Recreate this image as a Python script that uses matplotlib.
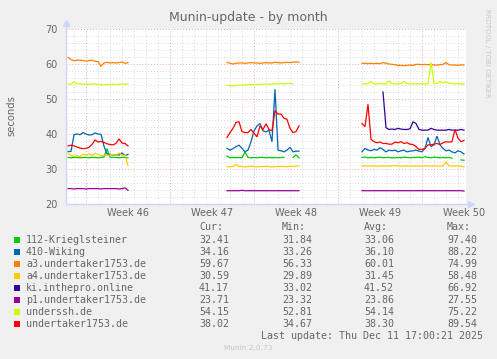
import numpy as np
import matplotlib
matplotlib.use("Agg")
import matplotlib.pyplot as plt
from matplotlib.patches import Rectangle

nan = np.nan

# x axis in days since Monday of week 46, one sample every 6 hours
t_seg1 = np.arange(-1.5, 3.51, 0.25)
t_seg2 = np.arange(11.75, 17.76, 0.25)
t_seg3 = np.arange(23.0, 31.51, 0.25)

week_labels = ["Week 46", "Week 47", "Week 48", "Week 49", "Week 50"]
week_centers = [3.5, 10.5, 17.5, 24.5, 31.5]

# 112-Krieglsteiner
krieg_1 = [33.3, 33.2, 33.3, 33.3, 33.2, 33.3, 33.3, 33.2, 33.3, 33.3, 33.2, 33.3, 33.4, 35.8, 33.4,
           33.3, 33.3, 33.2, 33.3, 33.3, 33.2]
krieg_2 = [33.7, 33.2, 33.3, 33.2, 33.3, 33.2, 34.8, 33.3, 33.2, 33.3, 33.2, 33.3, 33.3, 33.2, 33.3,
           33.2, 33.3, 33.2, 33.3, 33.3, nan, nan, 33.3, 34.0, 33.2]
krieg_3 = [33.3, 33.4, 33.2, 33.3, 33.2, 33.3, 33.4, 33.2, 33.3, 33.3, 33.2, 33.2, 33.3, 33.2, 33.4,
           33.3, 33.2, 33.3, 33.3, 33.4, 33.2, 33.5, 33.3, 33.2, 33.4, 33.3, 33.2, 33.3, 33.2, 33.3,
           33.1, nan, nan, 32.6, 32.5]

# 410-Wiking
wiking_1 = [35.0, 35.0, 39.8, 40.0, 39.8, 40.4, 40.0, 39.7, 39.8, 40.3, 40.0, 39.9, 36.5, 34.3, 34.2,
            34.0, 34.1, 34.0, 34.6, 33.8, 34.2]
wiking_2 = [35.9, 35.4, 35.8, 36.4, 36.8, 35.9, 34.9, 35.4, 37.8, 40.9, 42.3, 43.0, 40.9, 40.6, 41.1,
            37.8, 52.8, 35.4, 35.2, 34.9, 35.4, 36.2, 34.9, 35.1, 35.1]
wiking_3 = [34.9, 35.9, 35.4, 35.2, 35.6, 35.4, 36.1, 35.6, 34.9, 35.4, 35.2, 35.4, 34.9, 35.2, 35.4,
            34.9, 35.1, 35.2, 35.4, 35.1, 34.9, 35.9, 39.0, 36.4, 36.9, 39.4, 36.9, 35.9, 35.2, 35.4,
            34.9, 34.6, 35.2, 34.9, 34.3]

# a3.undertaker1753.de
a3_1 = [61.9, 61.3, 60.9, 61.1, 61.1, 61.0, 60.8, 61.0, 61.1, 60.8, 60.7, 59.3, 60.3, 60.5, 60.3,
        60.4, 60.3, 60.4, 60.6, 60.2, 60.4]
a3_2 = [60.5, 60.2, 60.0, 60.2, 60.3, 60.3, 60.2, 60.3, 60.4, 60.3, 60.3, 60.2, 60.3, 60.4, 60.3,
        60.3, 60.5, 60.4, 60.3, 60.4, 60.5, 60.4, 60.5, 60.6, 60.5]
a3_3 = [60.2, 60.2, 60.1, 60.2, 60.1, 60.2, 60.1, 60.4, 60.2, 60.0, 59.9, 59.8, 59.6, 59.6, 59.5,
        59.6, 59.7, 59.6, 59.9, 59.9, 59.8, 59.9, 59.8, 59.9, 59.7, 59.7, 59.8, 59.9, 60.4, 59.8,
        59.7, 59.7, 59.6, 59.8, 59.7]

# a4.undertaker1753.de
a4_1 = [34.6, 33.8, 33.6, 33.8, 33.5, 34.2, 34.0, 34.3, 33.8, 34.5, 34.2, 33.7, 34.0, 33.8, 34.0,
        34.2, 33.9, 34.6, 33.8, 34.0, 31.0]
a4_2 = [30.7, 30.6, 30.7, 31.3, 30.8, 30.7, 30.6, 30.7, 30.8, 30.7, 30.6, 30.7, 30.7, 30.8, 30.7,
        30.6, 30.7, 30.7, 30.8, 30.7, 30.7, 30.8, 30.7, 30.9, 30.8]
a4_3 = [30.9, 30.9, 30.8, 30.9, 30.9, 30.8, 30.9, 30.9, 30.8, 30.9, 30.9, 31.0, 30.9, 30.8, 30.9,
        30.9, 30.8, 30.9, 30.9, 30.9, 30.8, 30.9, 30.9, 30.8, 30.9, 30.9, 30.8, 30.9, 32.0, 30.9,
        30.8, 30.9, 30.9, 30.8, 30.6]

# ki.inthepro.online (only present in the last block)
ki_1 = [nan] * 21
ki_2 = [nan] * 25
ki_3 = [nan, nan, nan, nan, nan, nan, nan, 52.0, 41.8, 41.3, 41.4, 41.3, 41.6, 41.4, 41.3,
        41.3, 41.5, 43.5, 43.0, 41.3, 41.1, 41.1, 41.1, 41.6, 41.3, 41.1, 41.1, 41.1, 41.1, 41.3,
        41.1, 41.1, 41.1, 41.3, 41.1]

# p1.undertaker1753.de
p1_1 = [24.4, 24.4, 24.3, 24.4, 24.4, 24.4, 24.3, 24.4, 24.4, 24.4, 24.4, 24.3, 24.4, 24.4, 24.4,
        24.4, 24.4, 24.3, 24.4, 24.6, 23.9]
p1_2 = [23.8, 23.8, 23.8, 23.8, 23.8, 23.9, 23.8, 23.8, 23.8, 23.8, 23.8, 23.8, 23.8, 23.8, 23.8,
        23.8, 23.8, 23.8, 23.8, 23.8, 23.8, 23.8, 23.8, 23.8, 23.8]
p1_3 = [23.8, 23.8, 23.8, 23.8, 23.8, 23.8, 23.8, 23.8, 23.8, 23.8, 23.8, 23.8, 23.8, 23.8, 23.8,
        23.8, 23.8, 23.8, 23.8, 23.8, 23.8, 23.8, 23.8, 23.8, 23.8, 23.8, 23.8, 23.8, 23.8, 23.8,
        23.8, 23.8, 23.8, 23.8, 23.7]

# underssh.de
ussh_1 = [54.3, 54.2, 55.0, 54.3, 54.3, 54.2, 54.3, 54.2, 54.2, 54.3, 54.2, 54.1, 54.0, 54.2, 54.1,
          54.2, 54.1, 54.2, 54.3, 54.2, 54.3]
ussh_2 = [53.9, 53.8, 53.7, 53.9, 53.9, 54.0, 54.0, 54.1, 54.1, 54.1, 54.2, 54.2, 54.2, 54.3, 54.2,
          54.3, 54.3, 54.3, 54.4, 54.3, 54.4, 54.5, 54.3, nan, nan]
ussh_3 = [54.3, 54.3, 54.4, 55.0, 54.3, 54.3, 54.4, 54.3, 54.3, 55.2, 54.4, 54.3, 54.3, 54.4, 55.0,
          54.4, 54.3, 54.3, 54.3, 54.3, 54.4, 54.3, 54.3, 60.5, 54.5, 54.4, 55.0, 54.6, 54.9, 54.5,
          54.5, 54.3, 54.4, 54.3, 54.2]

# undertaker1753.de
und_1 = [36.6, 36.8, 36.6, 36.3, 36.0, 35.8, 35.9, 36.2, 37.0, 38.3, 37.7, 37.9, 37.6, 37.2, 37.0,
         36.9, 37.3, 38.6, 37.4, 37.3, 36.6]
und_2 = [39.0, 40.4, 41.6, 43.3, 43.5, 40.7, 40.4, 40.4, 41.3, 40.2, 39.2, 42.3, 41.3, 42.9, 41.3,
         40.9, 46.7, 45.7, 45.7, 44.5, 44.2, 41.6, 40.4, 40.7, 42.3]
und_3 = [43.0, 42.1, 48.5, 38.5, 37.8, 37.5, 37.7, 37.3, 37.3, 37.1, 37.1, 37.7, 37.5, 37.8, 37.3,
         37.5, 37.1, 37.0, 36.4, 35.6, 35.6, 35.9, 36.9, 36.9, 37.1, 37.3, 37.0, 37.5, 37.8, 37.7,
         37.8, 41.3, 38.8, 37.8, 38.2]

names = ["112-Krieglsteiner", "410-Wiking", "a3.undertaker1753.de", "a4.undertaker1753.de",
         "ki.inthepro.online", "p1.undertaker1753.de", "underssh.de", "undertaker1753.de"]
colors = ["#00CC00", "#0066B3", "#FF8000", "#FFCC00", "#330099", "#990099", "#CCFF00", "#FF0000"]
cur = ["32.41", "34.16", "59.67", "30.59", "41.17", "23.71", "54.15", "38.02"]
mins = ["31.84", "33.26", "56.33", "29.89", "33.02", "23.32", "52.81", "34.67"]
avgs = ["33.06", "36.10", "60.01", "31.45", "41.52", "23.86", "54.14", "38.30"]
maxs = ["97.40", "88.22", "74.99", "58.48", "66.92", "27.55", "75.22", "89.54"]

series = [
    (krieg_1, krieg_2, krieg_3), (wiking_1, wiking_2, wiking_3), (a3_1, a3_2, a3_3),
    (a4_1, a4_2, a4_3), (ki_1, ki_2, ki_3), (p1_1, p1_2, p1_3),
    (ussh_1, ussh_2, ussh_3), (und_1, und_2, und_3),
]

W, H = 497, 359
FONT = "#666666"
AXIS = "#CFD6F8"


def fx(x):
    return x / W


def fy(y):
    return 1 - y / H


fig = plt.figure(figsize=(W / 100, H / 100), dpi=100, facecolor="#F0F0F0")
ax = fig.add_axes([fx(66), fy(204), 400 / W, 175 / H])
ax.set_facecolor("white")
ax.set_xlim(-20 / 12, 380 / 12)
ax.set_ylim(20, 70)

# grid (rrdtool style dotted lines)
for d in range(-1, 32):
    if d % 7 == 0:
        ax.axvline(d, color="#EBA8A8", lw=0.7, dashes=(1, 2), zorder=1)
    else:
        ax.axvline(d, color="#DADADA", lw=0.7, dashes=(1, 2), zorder=1)
for v in range(22, 71, 2):
    if v % 10 == 0:
        ax.axhline(v, color="#EBA8A8", lw=0.7, dashes=(1, 2), zorder=1)
    else:
        ax.axhline(v, color="#DADADA", lw=0.7, dashes=(1, 2), zorder=1)

for segs, c in zip(series, colors):
    for t, vals in zip((t_seg1, t_seg2, t_seg3), segs):
        ax.plot(t, vals, color=c, lw=0.9, zorder=3, solid_joinstyle="miter")

for s in ax.spines.values():
    s.set_visible(False)

ax.set_xticks(week_centers)
ax.set_xticklabels(week_labels)
ax.set_yticks(range(20, 71, 10))
ax.tick_params(axis="both", length=0, labelsize=7, labelcolor=FONT)
ax.tick_params(axis="x", pad=3)
ax.tick_params(axis="y", pad=6)

# axes with arrows
ax.plot([0, 0], [0, 1.03], transform=ax.transAxes, color=AXIS, lw=1, clip_on=False, zorder=4)
ax.plot([0, 1.01], [0, 0], transform=ax.transAxes, color=AXIS, lw=1, clip_on=False, zorder=4)
ax.plot([0], [1.035], marker="^", ms=4, color=AXIS, transform=ax.transAxes, clip_on=False, zorder=4)
ax.plot([1.013], [0], marker=">", ms=4, color=AXIS, transform=ax.transAxes, clip_on=False, zorder=4)

fig.text(fx(248), fy(18), "Munin-update - by month", ha="center", va="center", fontsize=9, color=FONT)
fig.text(fx(11), fy(116), "seconds", rotation=90, ha="center", va="center", fontsize=7.2, color=FONT)
fig.text(fx(487), fy(53), "RRDTOOL / TOBI OETIKER", rotation=270, ha="center", va="center",
         fontsize=5, color="#C8C8C8")

# legend block
mono = "DejaVu Sans Mono"
LS = 7.2
for x0, head in zip([199, 282, 364, 447], ["Cur:", "Min:", "Avg:", "Max:"]):
    fig.text(fx(x0), fy(227), head, ha="left", va="center", fontsize=LS, family=mono, color=FONT)
for i, name in enumerate(names):
    yc = 240 + 12 * i
    fig.add_artist(Rectangle((fx(14), fy(yc + 3)), 6 / W, 6 / H, transform=fig.transFigure,
                             facecolor=colors[i], edgecolor="none"))
    fig.text(fx(26), fy(yc), name, ha="left", va="center", fontsize=LS, family=mono, color=FONT)
    for x0, col in zip([199, 282, 364, 447], [cur, mins, avgs, maxs]):
        fig.text(fx(x0), fy(yc), col[i], ha="left", va="center", fontsize=LS, family=mono, color=FONT)

fig.text(fx(483), fy(336), "Last update: Thu Dec 11 17:00:21 2025", ha="right", va="center",
         fontsize=LS, family=mono, color=FONT)
fig.text(fx(248), fy(348), "Munin 2.0.73", ha="center", va="center", fontsize=5.3, color="#C8C8C8")

fig.savefig("out.png", dpi=100, facecolor=fig.get_facecolor())
